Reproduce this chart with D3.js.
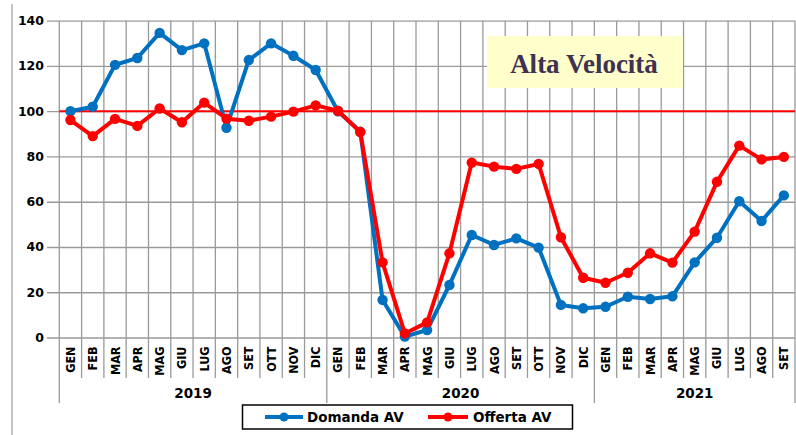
<!DOCTYPE html>
<html>
<head>
<meta charset="utf-8">
<script src="https://cdn.jsdelivr.net/npm/d3@7/dist/d3.min.js"></script>
<style>
  html, body { margin: 0; padding: 0; background: #fff; }
  svg { display: block; }
</style>
</head>
<body>
<svg id="chart" width="796" height="435"></svg>
<script>
// ---- data ----
const years = ["2019", "2020", "2021"];
const months2019 = ["GEN","FEB","MAR","APR","MAG","GIU","LUG","AGO","SET","OTT","NOV","DIC"];
const months2020 = ["GEN","FEB","MAR","APR","MAG","GIU","LUG","AGO","SET","OTT","NOV","DIC"];
const months2021 = ["GEN","FEB","MAR","APR","MAG","GIU","LUG","AGO","SET"];
const domanda = [100, 102, 120.5, 123.5, 134.6, 127, 130, 92.7, 122.6, 130, 124.5, 118.2,
                 100, 91, 16.6, 0.4, 3.3, 23.2, 45.3, 40.9, 43.8, 39.7, 14.4, 12.9,
                 13.6, 18, 17, 18.2, 33.2, 44.1, 60.2, 51.5, 62.8];
const offerta = [96.1, 89, 96.6, 93.5, 101.2, 95.1, 103.8, 96.7, 95.8, 97.6, 99.8, 102.6,
                 100.2, 90.8, 33.2, 1.8, 6.7, 37.2, 77.3, 75.5, 74.5, 76.7, 44.3, 26.4,
                 24.2, 28.6, 37.2, 33.1, 46.8, 68.8, 84.8, 78.7, 79.8];
const yTicks = [0, 20, 40, 60, 80, 100, 120, 140];
const refValue = 100;
const title = "Alta Velocità";
const seriesNames = ["Domanda AV", "Offerta AV"];

// ---- build categories ----
const groups = [months2019, months2020, months2021];
const cats = [];
groups.forEach((ms, gi) => ms.forEach(m => cats.push({ key: years[gi] + "-" + m, month: m, year: years[gi] })));

const svg = d3.select("#chart");
const pLeft = 59.3, pRight = 795, pTop = 20.7, pBottom = 337.5;
const x = d3.scaleBand().domain(cats.map(d => d.key)).range([pLeft, pRight]).padding(0);
const y = d3.scaleLinear().domain([0, 140]).range([pBottom, pTop]);
const gridColor = "#9a9a9a";

// outer frame line on left
svg.append("line").attr("x1", 12).attr("x2", 12).attr("y1", 4).attr("y2", 435)
  .attr("stroke", "#b0b0b0").attr("stroke-width", 1.5);

// horizontal grid + y labels via axis
const yAxis = d3.axisLeft(y).tickValues(yTicks).tickSize(pRight - 47).tickPadding(3);
const yg = svg.append("g").attr("transform", `translate(${pRight},0)`).call(yAxis);
yg.select(".domain").remove();
yg.selectAll(".tick line").attr("stroke", gridColor).attr("stroke-width", 1.3);
yg.selectAll(".tick text").attr("fill", "#000")
  .style("font-family", "'DejaVu Sans', Verdana, sans-serif")
  .style("font-weight", "bold").style("font-size", "12.5px");

// vertical grid lines / category separators
const bounds = cats.map(d => x(d.key)).concat([pRight]);
svg.append("g").selectAll("line").data(bounds).join("line")
  .attr("x1", d => d).attr("x2", d => d)
  .attr("y1", pTop).attr("y2", 378)
  .attr("stroke", gridColor).attr("stroke-width", 1.3);

// year separators
let idx = 0;
const yearBounds = [x(cats[0].key)];
groups.forEach(ms => { idx += ms.length; yearBounds.push(idx < cats.length ? x(cats[idx].key) : pRight); });
svg.append("g").selectAll("line").data(yearBounds).join("line")
  .attr("x1", d => d).attr("x2", d => d)
  .attr("y1", 378).attr("y2", 403)
  .attr("stroke", gridColor).attr("stroke-width", 1.3);

// x axis month labels
const xAxis = d3.axisBottom(x).tickSize(0).tickFormat(k => cats.find(c => c.key === k).month);
const xg = svg.append("g").attr("transform", `translate(0,${pBottom})`).call(xAxis);
xg.select(".domain").remove();
xg.selectAll(".tick text")
  .attr("transform", "rotate(-90)")
  .attr("x", -9).attr("y", 0).attr("dy", "0.36em")
  .style("text-anchor", "end").attr("fill", "#000")
  .style("font-family", "'DejaVu Sans Condensed', 'DejaVu Sans', sans-serif")
  .style("font-weight", "bold").style("font-size", "12.5px");

// year labels
svg.append("g").selectAll("text").data(years).join("text")
  .attr("x", (d, i) => (yearBounds[i] + yearBounds[i + 1]) / 2)
  .attr("y", 398)
  .attr("text-anchor", "middle")
  .style("font-family", "'DejaVu Sans', Verdana, sans-serif")
  .style("font-weight", "bold").style("font-size", "13.5px")
  .text(d => d);

// reference line at 100
svg.append("line").attr("x1", pLeft).attr("x2", pRight)
  .attr("y1", y(refValue)).attr("y2", y(refValue))
  .attr("stroke", "#ff0000").attr("stroke-width", 2);

// series
const cx = i => x(cats[i].key) + x.bandwidth() / 2;
const colors = ["#0070c0", "#ff0000"];
[domanda, offerta].forEach((vals, si) => {
  const line = d3.line().x((d, i) => cx(i)).y(d => y(d));
  svg.append("path").datum(vals).attr("d", line)
    .attr("fill", "none").attr("stroke", colors[si]).attr("stroke-width", 4)
    .attr("stroke-linejoin", "round");
  svg.append("g").selectAll("circle").data(vals).join("circle")
    .attr("cx", (d, i) => cx(i)).attr("cy", d => y(d)).attr("r", 5.2)
    .attr("fill", colors[si]);
});

// title box
svg.append("rect").attr("x", 487).attr("y", 36).attr("width", 196).attr("height", 52)
  .attr("fill", "#ffffcc");
svg.append("text").attr("x", 584).attr("y", 72.5).attr("text-anchor", "middle")
  .style("font-family", "'Liberation Serif', 'DejaVu Serif', serif")
  .style("font-weight", "bold").style("font-size", "27px")
  .attr("fill", "#3f3151").text(title);

// legend
const lg = svg.append("g");
lg.append("rect").attr("x", 242.5).attr("y", 405).attr("width", 330).attr("height", 24)
  .attr("fill", "#fff").attr("stroke", "#000").attr("stroke-width", 1.5);
const legendItems = [{ x0: 265, x1: 303, tx: 307 }, { x0: 428, x1: 468, tx: 473 }];
legendItems.forEach((it, i) => {
  lg.append("line").attr("x1", it.x0).attr("x2", it.x1).attr("y1", 417).attr("y2", 417)
    .attr("stroke", colors[i]).attr("stroke-width", 4);
  lg.append("circle").attr("cx", (it.x0 + it.x1) / 2).attr("cy", 417).attr("r", 4.5).attr("fill", colors[i]);
  lg.append("text").attr("x", it.tx).attr("y", 417).attr("dy", "0.36em")
    .style("font-family", "'DejaVu Sans', Verdana, sans-serif")
    .style("font-weight", "bold").style("font-size", "13.5px")
    .text(seriesNames[i]);
});
</script>
</body>
</html>
